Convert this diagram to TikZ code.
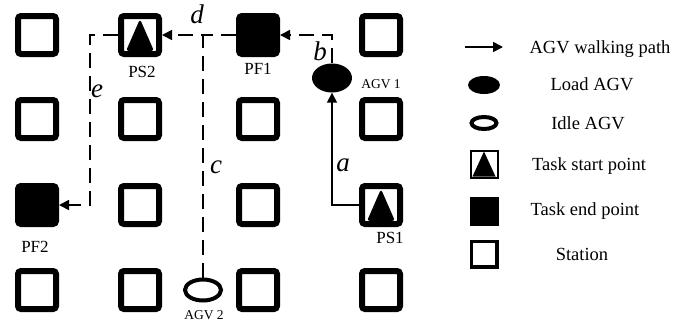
\documentclass[tikz,border=0pt]{standalone}
\usepackage{fontspec}
\setmainfont{Liberation Serif}
\usetikzlibrary{shapes.geometric,arrows.meta}

\begin{document}
\begin{tikzpicture}[x=1pt,y=-1pt,
  station/.style={draw=black,line width=6pt,rounded corners=3pt,
    minimum size=38pt,inner sep=0pt,fill=white},
  endpt/.style={station,fill=black},
  startpt/.style={station,path picture={
    \fill[black] ([yshift=16pt]path picture bounding box.center)
      -- ([xshift=14pt,yshift=-16pt]path picture bounding box.center)
      -- ([xshift=-14pt,yshift=-16pt]path picture bounding box.center) -- cycle;}},
  keystation/.style={draw=black,line width=3.5pt,minimum size=25.5pt,inner sep=0pt,fill=white},
  keyend/.style={keystation,fill=black},
  keystart/.style={draw=black,line width=2pt,minimum size=27pt,inner sep=0pt,fill=white,
    path picture={
    \fill[black] ([yshift=12.5pt]path picture bounding box.center)
      -- ([xshift=11.5pt,yshift=-12.5pt]path picture bounding box.center)
      -- ([xshift=-11.5pt,yshift=-12.5pt]path picture bounding box.center) -- cycle;}},
  loadagv/.style={ellipse,fill=black,inner sep=0pt},
  idleagv/.style={ellipse,draw=black,line width=4pt,inner sep=0pt,fill=white},
  walk/.style={line width=1.6pt,-{Triangle[length=10pt,width=10pt]}},
  dwalk/.style={walk,dash pattern=on 15pt off 8pt},
  dline/.style={line width=1.6pt,dash pattern=on 15pt off 8pt},
  seg/.style={font=\fontsize{27}{27}\selectfont\itshape,inner sep=0pt},
  lab/.style={font=\fontsize{17}{17}\selectfont,inner sep=0pt,anchor=base},
  small/.style={font=\fontsize{13.5}{13.5}\selectfont,inner sep=0pt,anchor=base},
  keytext/.style={font=\fontsize{18.5}{18.5}\selectfont,inner sep=0pt,anchor=base}]

\useasboundingbox (0,0) rectangle (674,327);

% grid of stations
\node[station] (s11) at (37,35) {};
\node[startpt] (PS2) at (140,35) {};
\node[endpt]   (PF1) at (258,35) {};
\node[station] (s14) at (381,35) {};

\node[station] (s21) at (37,119) {};
\node[station] (s22) at (140,119) {};
\node[station] (s23) at (258,119) {};
\node[station] (s24) at (381,119) {};

\node[endpt]   (PF2) at (37,205) {};
\node[station] (s32) at (140,205) {};
\node[station] (s33) at (258,205) {};
\node[startpt] (PS1) at (381,205) {};

\node[station] (s41) at (37,290) {};
\node[station] (s42) at (140,290) {};
\node[station] (s43) at (258,290) {};
\node[station] (s44) at (381,290) {};

% vehicles
\node[loadagv,minimum width=40pt,minimum height=29pt] (AGV1) at (332,78) {};
\node[idleagv,minimum width=36pt,minimum height=21pt] (AGV2) at (203,290) {};

% station labels
\node[lab] (lPS2) at (142,77) {PS2};
\node[lab] (lPF1) at (258,74) {PF1};
\node[lab] (lPF2) at (35,252) {PF2};
\node[lab] (lPS1) at (390,243) {PS1};
\node[small] (lA1) at (381,88) {AGV 1};
\node[small] (lA2) at (204,319) {AGV 2};

% walking paths
\coordinate (jd) at (AGV2.north |- PS2.east);
\coordinate (e1) at (90,35);
\draw[walk] (PS1.west) -| (AGV1.south);
\draw[dwalk] (AGV1.north) |- (PF1.east);
\draw[dline] (PF1.west) -- (jd);
\draw[dwalk] (AGV2.north) -- (jd) -- (PS2.east);
\draw[dwalk] (PS2.west) -- (e1) |- (PF2.east);

% path segment names
\node[seg] (ta) at (343,165) {a};
\node[seg] (tb) at (320,51) {b};
\node[seg] (tc) at (216,167) {c};
\node[seg] (td) at (197,14) {d};
\node[seg] (te) at (97,91) {e};

% legend
\coordinate (ka) at (465,47);
\coordinate (kb) at (503,47);
\draw[walk] (ka) -- (kb);
\node[keytext] (k1) at (600,53) {AGV walking path};

\node[loadagv,minimum width=32pt,minimum height=18pt] (kload) at (484,85) {};
\node[keytext] (k2) at (592,90) {Load AGV};

\node[idleagv,minimum width=25pt,minimum height=12pt] (kidle) at (484,123) {};
\node[keytext] (k3) at (588,129) {Idle AGV};

\node[keystart] (kstart) at (484,164) {};
\node[keytext] (k4) at (589,170) {Task start point};

\node[keyend] (kend) at (484,211) {};
\node[keytext] (k5) at (585,215) {Task end point};

\node[keystation] (kst) at (484,254) {};
\node[keytext] (k6) at (582,260) {Station};
\end{tikzpicture}
\end{document}
